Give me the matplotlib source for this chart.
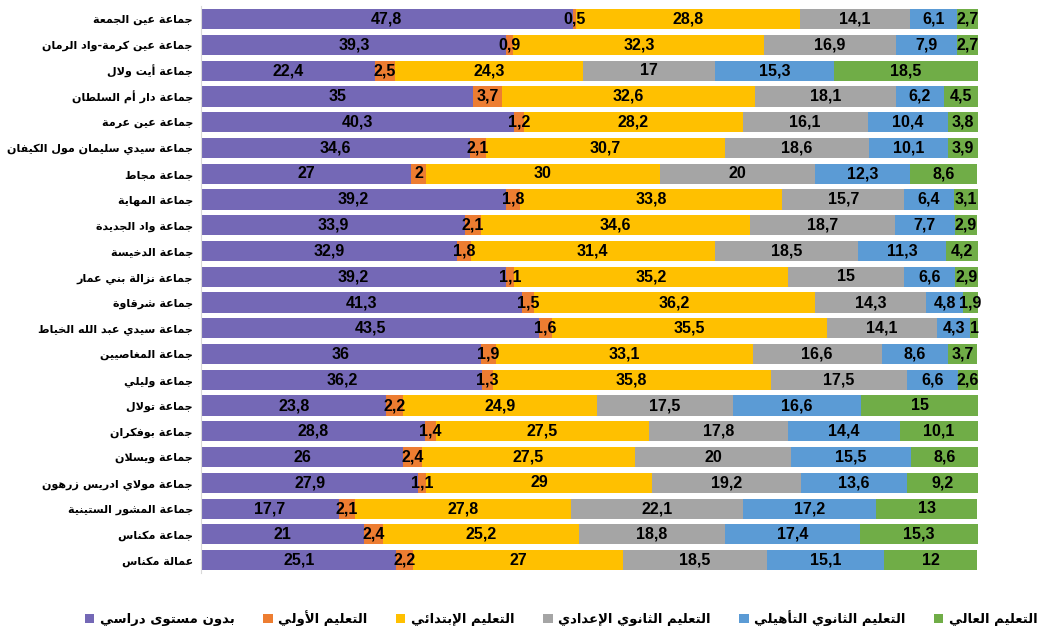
import matplotlib
matplotlib.use("Agg")
import matplotlib.pyplot as plt
import numpy as np

communes = [
    "جماعة عين الجمعة",
    "جماعة عين كرمة-واد الرمان",
    "جماعة أيت ولال",
    "جماعة دار أم السلطان",
    "جماعة عين عرمة",
    "جماعة سيدي سليمان مول الكيفان",
    "جماعة مجاط",
    "جماعة المهاية",
    "جماعة واد الجديدة",
    "جماعة الدخيسة",
    "جماعة نزالة بني عمار",
    "جماعة شرقاوة",
    "جماعة سيدي عبد الله الخياط",
    "جماعة المغاصيين",
    "جماعة وليلي",
    "جماعة تولال",
    "جماعة بوفكران",
    "جماعة ويسلان",
    "جماعة مولاي ادريس زرهون",
    "جماعة المشور الستينية",
    "جماعة مكناس",
    "عمالة مكناس",
]

levels = [
    "بدون مستوى دراسي",
    "التعليم الأولي",
    "التعليم الإبتدائي",
    "التعليم الثانوي الإعدادي",
    "التعليم الثانوي التأهيلي",
    "التعليم العالي",
]

sans_niveau = [47.8, 39.3, 22.4, 35, 40.3, 34.6, 27, 39.2, 33.9, 32.9, 39.2,
               41.3, 43.5, 36, 36.2, 23.8, 28.8, 26, 27.9, 17.7, 21, 25.1]
prescolaire = [0.5, 0.9, 2.5, 3.7, 1.2, 2.1, 2, 1.8, 2.1, 1.8, 1.1,
               1.5, 1.6, 1.9, 1.3, 2.2, 1.4, 2.4, 1.1, 2.1, 2.4, 2.2]
primaire = [28.8, 32.3, 24.3, 32.6, 28.2, 30.7, 30, 33.8, 34.6, 31.4, 35.2,
            36.2, 35.5, 33.1, 35.8, 24.9, 27.5, 27.5, 29, 27.8, 25.2, 27]
college = [14.1, 16.9, 17, 18.1, 16.1, 18.6, 20, 15.7, 18.7, 18.5, 15,
           14.3, 14.1, 16.6, 17.5, 17.5, 17.8, 20, 19.2, 22.1, 18.8, 18.5]
qualifiant = [6.1, 7.9, 15.3, 6.2, 10.4, 10.1, 12.3, 6.4, 7.7, 11.3, 6.6,
              4.8, 4.3, 8.6, 6.6, 16.6, 14.4, 15.5, 13.6, 17.2, 17.4, 15.1]
superieur = [2.7, 2.7, 18.5, 4.5, 3.8, 3.9, 8.6, 3.1, 2.9, 4.2, 2.9,
             1.9, 1, 3.7, 2.6, 15, 10.1, 8.6, 9.2, 13, 15.3, 12]

colors = ["#7468B6", "#ED7D31", "#FFC000", "#A5A5A5", "#5B9BD5", "#70AD47"]


# matplotlib ne fait pas le "shaping" arabe : formes contextuelles a la main
BASE4 = {"ئ": 0xFE89, "ب": 0xFE8F, "ت": 0xFE95, "ث": 0xFE99, "ج": 0xFE9D,
         "ح": 0xFEA1, "خ": 0xFEA5, "س": 0xFEB1, "ش": 0xFEB5, "ص": 0xFEB9,
         "ض": 0xFEBD, "ط": 0xFEC1, "ظ": 0xFEC5, "ع": 0xFEC9, "غ": 0xFECD,
         "ف": 0xFED1, "ق": 0xFED5, "ك": 0xFED9, "ل": 0xFEDD, "م": 0xFEE1,
         "ن": 0xFEE5, "ه": 0xFEE9, "ي": 0xFEF1}
BASE2 = {"آ": 0xFE81, "أ": 0xFE83, "ؤ": 0xFE85, "إ": 0xFE87, "ا": 0xFE8D,
         "ة": 0xFE93, "د": 0xFEA9, "ذ": 0xFEAB, "ر": 0xFEAD, "ز": 0xFEAF,
         "و": 0xFEED, "ى": 0xFEEF}
LAM_ALEF = {"آ": 0xFEF5, "أ": 0xFEF7, "إ": 0xFEF9, "ا": 0xFEFB}


def ar(text):
    chars = list(text)
    out = []
    i = 0
    n = len(chars)
    while i < n:
        c = chars[i]
        prev_joins = i > 0 and chars[i - 1] in BASE4
        if c == "ل" and i + 1 < n and chars[i + 1] in LAM_ALEF:
            code = LAM_ALEF[chars[i + 1]] + (1 if prev_joins else 0)
            out.append(chr(code))
            i += 2
            continue
        next_joins = i + 1 < n and (chars[i + 1] in BASE4 or chars[i + 1] in BASE2)
        if c in BASE4:
            b = BASE4[c]
            if prev_joins and next_joins:
                code = b + 3
            elif prev_joins:
                code = b + 1
            elif next_joins:
                code = b + 2
            else:
                code = b
            out.append(chr(code))
        elif c in BASE2:
            out.append(chr(BASE2[c] + (1 if prev_joins else 0)))
        else:
            out.append(c)
        i += 1
    return "".join(reversed(out))


series = [sans_niveau, prescolaire, primaire, college, qualifiant, superieur]

fig = plt.figure(figsize=(10.59, 6.31), dpi=100)
ax = fig.add_axes([0.19, 0.092, 0.7335, 0.898])

y = np.arange(len(communes))
left = np.zeros(len(communes))
for name, vals, col in zip(levels, series, colors):
    vals = np.array(vals, dtype=float)
    bars = ax.barh(y, vals, left=left, height=0.78, color=col, label=ar(name))
    labels = [("%g" % v).replace(".", ",") for v in vals]
    ax.bar_label(bars, labels=labels, label_type="center", fontsize=11.5,
                 fontweight="bold", family="Liberation Sans", color="black")
    left += vals

ax.set_xlim(0, 100)
ax.set_ylim(len(communes) - 0.5, -0.5)
ax.set_yticks(y)
ax.set_yticklabels([ar(c) for c in communes], fontsize=8, fontweight="bold",
                   family="DejaVu Sans")
ax.tick_params(axis="y", length=0, pad=6)
ax.set_xticks([])
for s in ["top", "right", "bottom"]:
    ax.spines[s].set_visible(False)
ax.spines["left"].set_color("#D9D9D9")

fig.legend(loc="center", bbox_to_anchor=(0.53, 0.02), ncol=6, frameon=False,
           prop={"family": "DejaVu Sans", "weight": "bold", "size": 9.5},
           handlelength=0.7, handleheight=0.7, handletextpad=0.4,
           columnspacing=2.2)

fig.savefig("out.png", dpi=100)
